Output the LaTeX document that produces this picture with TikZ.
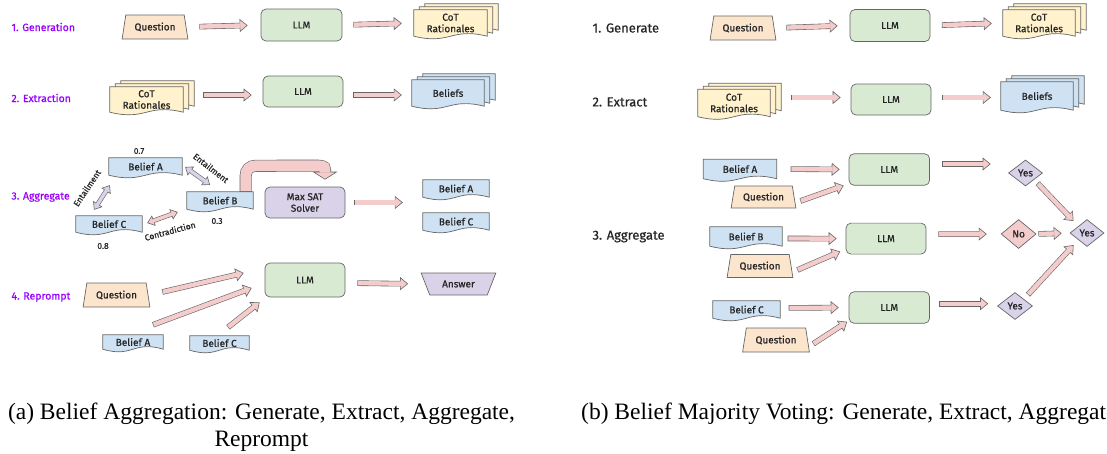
\documentclass[tikz,border=0pt]{standalone}
\usepackage{fontspec}
\setmainfont{Fira Sans}
\newfontfamily\boxfont{Fira Sans}[FakeBold=0.7]
\newfontfamily\capfont{Liberation Serif}
\usetikzlibrary{shapes.geometric, arrows.meta, calc, backgrounds}

\definecolor{qfill}{HTML}{FCE5CD}
\definecolor{llmfill}{HTML}{D9EAD3}
\definecolor{cotfill}{HTML}{FFF2CC}
\definecolor{belfill}{HTML}{CFE2F3}
\definecolor{lavfill}{HTML}{D9D2E9}
\definecolor{pinkfill}{HTML}{F4CCCC}
\definecolor{edgegray}{HTML}{666666}
\definecolor{steppurple}{HTML}{9900FF}

\tikzset{
  boxtext/.style={font=\boxfont\fontsize{10}{11.5}\selectfont, text=black!85, align=center, inner sep=1pt},
  llmbox/.style={boxtext, draw=edgegray, line width=0.7pt, fill=llmfill, rounded corners=5pt, minimum width=80, minimum height=31},
  satbox/.style={llmbox, fill=lavfill},
  qbox/.style={boxtext, trapezium, trapezium stretches=true, trapezium left angle=76, trapezium right angle=76, draw=edgegray, line width=0.7pt, fill=qfill, minimum width=66, minimum height=24},
  ansbox/.style={qbox, trapezium left angle=120, trapezium right angle=120, fill=lavfill},
  docbox/.style 2 args={boxtext, minimum width=#1, minimum height=#2},
  vote/.style={boxtext, diamond, draw=edgegray, line width=0.7pt, fill=lavfill, minimum width=34, minimum height=27, inner sep=0pt},
  sheetline/.style={draw=edgegray, line width=0.7pt},
  steplabel/.style={font=\boxfont\fontsize{10.5}{11}\selectfont, text=steppurple, anchor=west},
  partlabel/.style={font=\boxfont\fontsize{13}{14}\selectfont, text=black!85, anchor=west},
  score/.style={font=\boxfont\fontsize{8.5}{9}\selectfont, text=black!85},
  relation/.style={font=\boxfont\fontsize{8.5}{9}\selectfont, text=black!85, inner sep=0pt},
  caption/.style={font=\capfont\fontsize{23.5}{27}\selectfont, inner sep=0pt},
  fat/.style 2 args={draw=edgegray, line width=5.6pt, shorten <=#1, shorten >=#2,
    -{Triangle[length=8pt, width=13pt, line width=0.6pt, fill=pinkfill]},
    postaction={draw=pinkfill, line width=4.4pt, -, shorten <=#1+0.6pt, shorten >=#2+7pt}},
  dbl/.style={draw=edgegray, line width=4.6pt,
    {Triangle[length=7pt, width=11pt, line width=0.6pt, fill=#1]}-{Triangle[length=7pt, width=11pt, line width=0.6pt, fill=#1]},
    postaction={draw=#1, line width=3.4pt, -, shorten <=6pt, shorten >=6pt}},
  uarrow/.style={draw=edgegray, line width=12pt,
    -{Triangle[length=8pt, width=25pt, line width=0.6pt, fill=pinkfill]},
    postaction={draw=pinkfill, line width=10.8pt, -, shorten <=0.6pt, shorten >=7pt}}
}

% wavy "document" sheet round a node, shifted by (#2,#3)
\newcommand{\sheet}[4]{%
  \draw[sheetline, fill=#4] ($(#1.north west)+(#2,#3)$) -- ($(#1.north east)+(#2,#3)$) -- ($(#1.south east)+(#2,#3)$)
    .. controls ($(#1.south)+(#2,#3)+(0,-9)$) and ($(#1.south)+(#2,#3)+(0,9)$) .. ($(#1.south west)+(#2,#3)$) -- cycle;}

\begin{document}
\begin{tikzpicture}[x=1pt, y=-1pt]
	\useasboundingbox (0,0) rectangle (1107,453);
	\clip (0,0) rectangle (1107,453);

	% (a) Belief aggregation
	\node[steplabel] (g1lab) at (8,27) {1. Generation};
	\node[qbox] (g1q) at (155,27) {Question};
	\node[llmbox, minimum width=81, minimum height=32] (g1llm) at (301.5,25) {LLM};
	\node[docbox={73}{26}] (g1cot) at (450.5,23) {CoT\\Rationales};
	\draw[fat={13}{13}] (g1q.east) -- (g1llm.west);
	\draw[fat={11}{12}] (g1llm.east) -- (g1cot.west);

	\node[steplabel] (e2lab) at (8,98) {2. Extraction};
	\node[docbox={73}{25}] (e2cot) at (146.5,99.5) {CoT\\Rationales};
	\node[llmbox] (e2llm) at (303,91.5) {LLM};
	\node[docbox={72}{26}] (e2bel) at (448,93) {Beliefs};
	\draw[fat={20}{11}] ($(e2cot.east)+(0,-4.5)$) -- ($(e2llm.west)+(0,3.5)$);
	\draw[fat={10}{10}] ($(e2llm.east)+(0,3.5)$) -- ($(e2bel.west)+(0,2)$);

	\node[steplabel] (a3lab) at (8,197) {3. Aggregate};
	\node[docbox={73}{17}] (a3A) at (145.5,166.5) {Belief A};
	\node[docbox={66}{17}] (a3B) at (220,200.5) {Belief B};
	\node[docbox={66}{16}] (a3C) at (109,224) {Belief C};
	\node[score] (p07) at (139,151) {0.7};
	\node[score] (p03) at (217,221) {0.3};
	\node[score] (p08) at (103,246) {0.8};
	\node[relation, rotate=-38] (entAB) at (211,168) {Entailment};
	\node[relation, rotate=56] (entCA) at (87,188) {Entailment};
	\node[relation, rotate=15] (conCB) at (170,231) {Contradiction};
	\draw[dbl=lavfill] ($(a3A.east)+(3,0.5)$) -- ($(a3B.north)+(-10,-7)$);
	\draw[dbl=lavfill] ($(a3C.north)+(-15,-6)$) -- ($(a3A.south west)+(1,10)$);
	\draw[dbl=pinkfill] ($(a3C.east)+(5,-1)$) -- ($(a3B.west)+(-9,11.5)$);
	\node[satbox] (sat) at (305,202.5) {Max SAT\\Solver};
	\draw[uarrow] ($(a3B.north east)+(-7.5,0)$) -- ++(0,-16) .. controls +(0,-6) and +(-6,0) .. ++(10,-10)
		-- ($(sat.north)+(8,-21)$) .. controls +(8,0) and +(0,-4) .. ($(sat.north)+(20,-17)$) -- ($(sat.north)+(20,-7)$);
	\node[docbox={66}{17}] (o3A) at (456,188.5) {Belief A};
	\node[docbox={66}{17}] (o3C) at (456,221.5) {Belief C};
	\draw[fat={9}{20}] (sat.east) -- (sat.east -| o3A.west);

	\node[steplabel] (r4lab) at (8,297) {4. Reprompt};
	\node[qbox, minimum width=67] (r4q) at (116.5,295) {Question};
	\node[llmbox, minimum height=34] (r4llm) at (305,280) {LLM};
	\node[ansbox, minimum width=75, minimum height=22] (r4ans) at (458.5,284) {Answer};
	\node[docbox={60}{14}] (r4A) at (133,342) {Belief A};
	\node[docbox={59}{14}] (r4C) at (219.5,343) {Belief C};
	\draw[fat={0}{0}] ($(r4q.east)+(14,-3)$) -- ($(r4llm.west)+(-21,-7)$);
	\draw[fat={0}{0}] ($(r4A.north)+(20,-10)$) -- ($(r4llm.west)+(-13,8)$);
	\draw[fat={0}{0}] ($(r4C.north)+(8.5,-8.5)$) -- ($(r4llm.south west)+(-5,5)$);
	\draw[fat={12}{17}] ($(r4llm.east)+(0,3)$) -- (r4ans.west);

	% (b) Belief majority voting
	\node[partlabel] (G1lab) at (589,28) {1. Generate};
	\node[qbox] (G1q) at (743,28) {Question};
	\node[llmbox, minimum height=32] (G1llm) at (890,25.5) {LLM};
	\node[docbox={72}{26}] (G1cot) at (1039,23) {CoT\\Rationales};
	\draw[fat={12}{12}] (G1q.east) -- (G1llm.west);
	\draw[fat={11.5}{11}] (G1llm.east) -- (G1cot.west);

	\node[partlabel] (E2lab) at (589,102) {2. Extract};
	\node[docbox={72}{27}] (E2cot) at (734,103) {CoT\\Rationales};
	\node[llmbox] (E2llm) at (891,99.5) {LLM};
	\node[docbox={72}{28}] (E2bel) at (1037,96) {Beliefs};
	\draw[fat={21}{10}] ($(E2cot.east)+(0,-5.5)$) -- ($(E2llm.west)+(0,-2)$);
	\draw[fat={11}{10}] ($(E2llm.east)+(0,-2)$) -- ($(E2bel.west)+(0,1.5)$);

	\node[partlabel] (A3lab) at (589,236.5) {3. Aggregate};
	\node[docbox={73}{19}] (bA) at (740,169) {Belief A};
	\node[qbox, minimum width=65, minimum height=22] (qA) at (763.5,197) {Question};
	\node[llmbox, minimum width=80.5, minimum height=31.5] (L1) at (889.3,169.5) {LLM};
	\node[docbox={72}{19}] (bB) at (746,236.5) {Belief B};
	\node[qbox, minimum height=23] (qB) at (760,266) {Question};
	\node[llmbox] (L2) at (886,238.6) {LLM};
	\node[docbox={67}{17}] (bC) at (746.5,309.5) {Belief C};
	\node[qbox, minimum width=67] (qC) at (776,340) {Question};
	\node[llmbox, minimum width=80.5, minimum height=31.5] (L3) at (889.3,307.5) {LLM};
	\node[vote, minimum height=26] (Y1) at (1025.5,173) {Yes};
	\node[vote, fill=pinkfill, minimum width=35, minimum height=29] (No) at (1018.6,234) {No};
	\node[vote, minimum width=35] (Y3) at (1015,306) {Yes};
	\node[vote] (Fin) at (1087,233) {Yes};
	\draw[fat={14}{9}] (bA.east) -- (L1.west);
	\draw[fat={0}{0}] ($(qA.east)+(6,4)$) -- ($(L1.south west)+(-5,0)$);
	\draw[fat={5.5}{9}] ($(bB.east)+(0,2)$) -- (L2.west);
	\draw[fat={0}{0}] ($(qB.east)+(6,4)$) -- ($(L2.south west)+(-5.5,-3)$);
	\draw[fat={8.5}{10}] ($(bC.east)+(0,-1.5)$) -- (L3.west);
	\draw[fat={0}{0}] ($(qC.east)+(5.4,3.8)$) -- ($(L3.south west)+(-1.6,-1.8)$);
	\draw[fat={12}{17.5}] ($(L1.east)+(0,-5.5)$) -- ($(Y1.west)+(0,-9)$);
	\draw[fat={12}{14}] ($(L2.east)+(0,-4.4)$) -- (No.west);
	\draw[fat={9.4}{9}] ($(L3.east)+(0,-3.8)$) -- ($(Y3.west)+(0,-2.3)$);
	\draw[fat={5}{7}] (Y1.south east) -- (Fin.north west);
	\draw[fat={2}{8}] (No.east) -- (Fin.west);
	\draw[fat={6}{7}] (Y3.north east) -- (Fin.south west);

	% captions
	\node[caption, anchor=north, align=center] (capA) at (261.5,403) {(a) Belief Aggregation: Generate, Extract, Aggregate,\\Reprompt};
	\node[caption, anchor=base west] (capB) at (581,419) {(b) Belief Majority Voting: Generate, Extract, Aggregate};

	% document sheets behind the text
	\begin{scope}[on background layer]
		\foreach \n/\c in {a3A/belfill, a3B/belfill, a3C/belfill, o3A/belfill, o3C/belfill, r4A/belfill, r4C/belfill, bA/belfill, bB/belfill, bC/belfill}
			\sheet{\n}{0}{0}{\c};
		\foreach \n/\c in {g1cot/cotfill, e2cot/cotfill, e2bel/belfill, G1cot/cotfill, E2cot/cotfill, E2bel/belfill}
			\foreach \k in {2,1,0}
				\sheet{\n}{5.5*\k}{-3*\k}{\c};
	\end{scope}
\end{tikzpicture}
\end{document}
